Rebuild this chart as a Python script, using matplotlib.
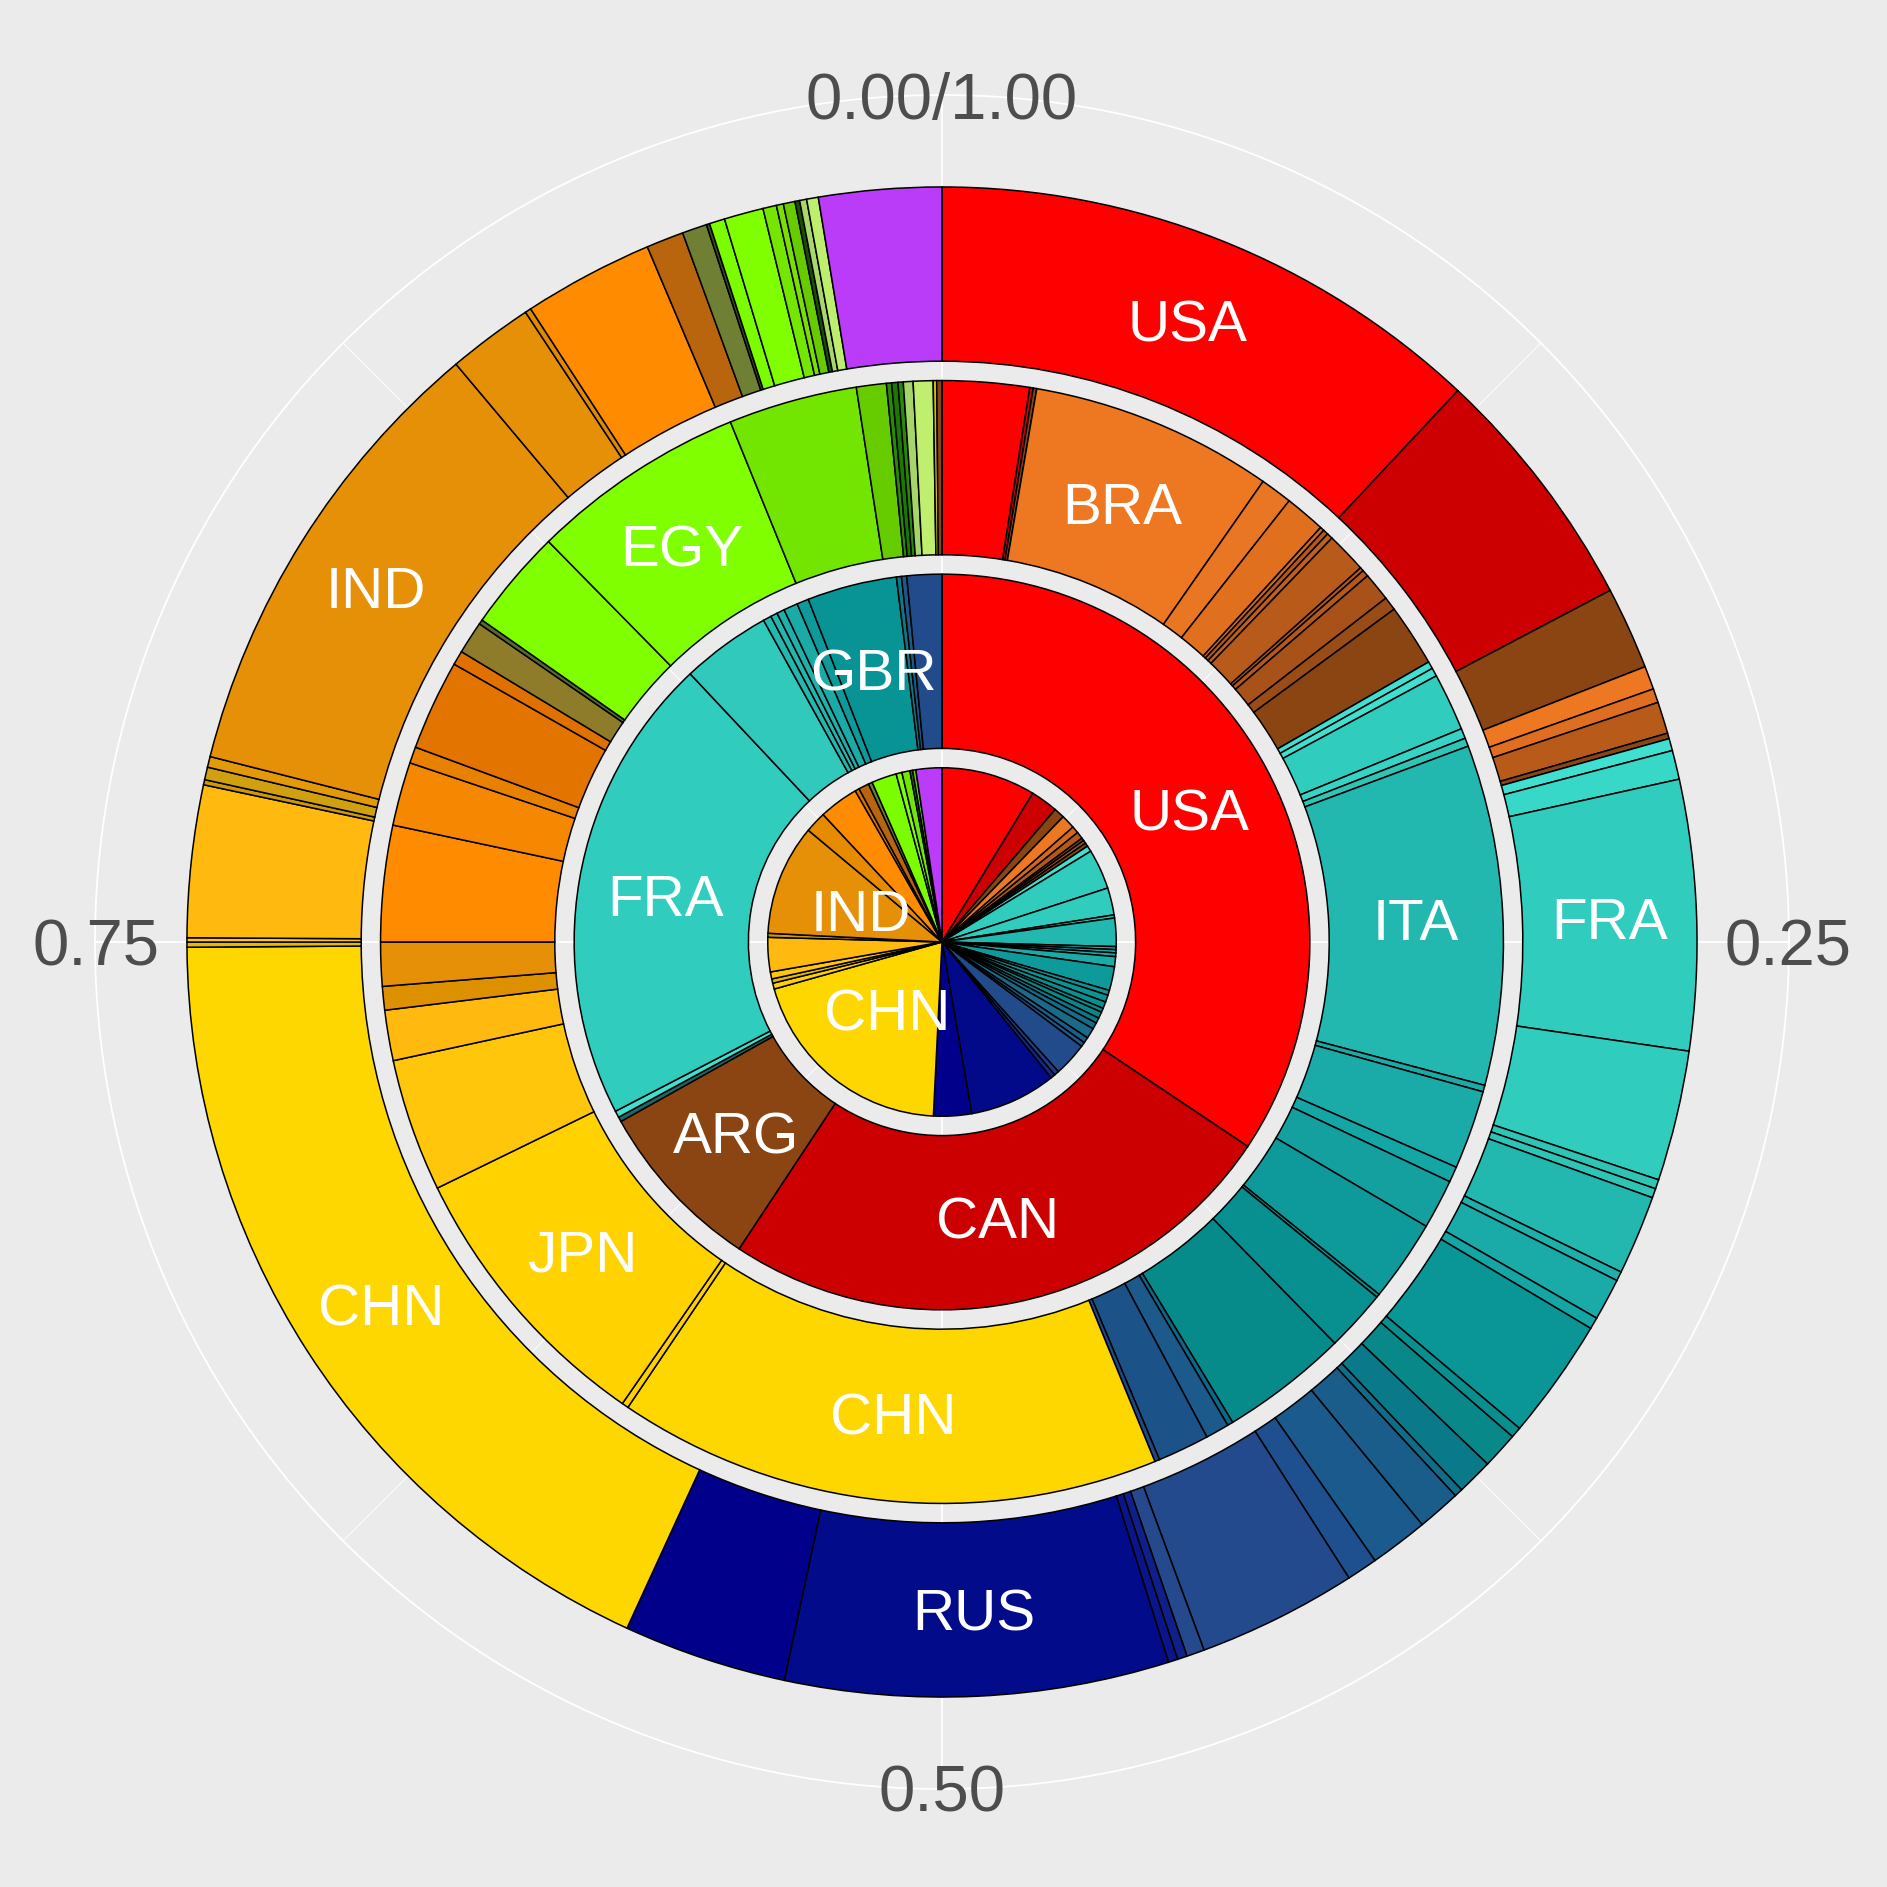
import numpy as np
import matplotlib
matplotlib.use("Agg")
import matplotlib.pyplot as plt
from matplotlib.transforms import offset_copy

plt.rcParams['font.family'] = ['Liberation Sans', 'DejaVu Sans']

# share of each slice (percent of the ring), clockwise from 12 o'clock
ring1_share = [8.72, 2.53, 0.99, 1.30, 0.65, 0.65, 0.26, 0.30, 0.33, 0.55,
               3.71, 2.52, 0.29, 2.62, 0.28, 0.30, 0.34, 0.93, 2.21, 0.46,
               0.66, 0.62, 0.38, 0.60, 0.50, 0.60, 0.97, 0.53, 0.42, 3.14,
               0.44, 0.43, 8.04, 3.52, 19.86, 0.55, 0.40, 0.65, 3.18, 0.37,
               10.28, 1.97, 3.66, 0.39, 0.97, 0.37, 2.32, 0.54, 0.75, 0.25,
               0.30, 2.40]
ring1_fill = ['#FF0000', '#CC0000', '#8B4513', '#EE7722', '#D2691E', '#B5581A', '#8B4513', '#A0522D', '#8B4513', '#40E0D0',
              '#30CCBE', '#30CCBE', '#2EC4B6', '#22B8B0', '#1EB0AA', '#1AABA8', '#1AABA8', '#1AABA8', '#0E9A9A', '#0C9696',
              '#0A9494', '#0A9090', '#098C8C', '#088888', '#0A7A8A', '#126E8A', '#1A6A8A', '#1B5E8A', '#1B5A8A', '#224B8C',
              '#1E3C8A', '#102A8A', '#030A8A', '#00008B', '#FFD700', '#FFD000', '#E6B800', '#FFC60B', '#FFB90F', '#CC9A06',
              '#E69008', '#E68A00', '#FF8C00', '#E07000', '#B8650E', '#6F8035', '#7CFC00', '#7FFF00', '#72E600', '#1A7A00',
              '#66CC00', '#BB3CF8']
ring1_label = [''] * 34 + ['CHN'] + [''] * 5 + ['IND'] + [''] * 11

ring2_share = [34.38, 24.92, 7.59, 0.21, 0.29, 20.61, 3.94, 0.36, 0.30, 0.34,
               0.62, 0.52, 3.94, 0.22, 0.23, 1.53]
ring2_fill = ['#FF0000', '#CC0000', '#8B4513', '#1A6A6A', '#40E0D0', '#30CCBE', '#30C9BC', '#22B8B0', '#22B8B0', '#1EB0AA',
              '#1AABA8', '#0E9A9A', '#089494', '#0A7A8A', '#1A5A8A', '#224B8C']
ring2_label = ['USA', 'CAN', 'ARG', '', '', 'FRA', '', '', '', '',
               '', '', 'GBR', '', '', '']

ring3_share = [2.50, 0.10, 0.10, 6.99, 0.92, 1.17, 0.12, 0.15, 0.17, 1.17,
               0.11, 0.19, 0.82, 0.39, 1.79, 0.21, 0.24, 1.66, 0.29, 0.24,
               9.78, 0.19, 2.27, 0.45, 1.43, 2.35, 0.10, 1.77, 3.67, 0.16,
               0.68, 1.49, 0.14, 15.64, 0.19, 8.14, 3.83, 1.45, 0.68, 1.26,
               3.34, 1.83, 0.47, 2.60, 0.41, 0.94, 0.13, 2.92, 6.21, 3.71,
               0.86, 0.15, 0.18, 0.15, 0.28, 0.57, 0.10, 0.15]
ring3_fill = ['#FF0000', '#CC0000', '#8B4513', '#EE7722', '#E87622', '#E0701E', '#D2691E', '#B5581A', '#C0601C', '#B85A1A',
              '#B5581A', '#B5581A', '#A8521A', '#9A4C16', '#8B4513', '#40E0D0', '#40E0D0', '#30CCBE', '#36D4C6', '#2EC4B6',
              '#22B8B0', '#1AABA8', '#1AABA8', '#14A5A5', '#13A09F', '#0E9A9A', '#0A9090', '#089090', '#078A8A', '#0A6A8A',
              '#1B5A8A', '#1B5288', '#1E4A8A', '#FFD700', '#FFD000', '#FFD200', '#FFC60B', '#FFB90F', '#DE9100', '#E69008',
              '#FF8C00', '#F58800', '#E88000', '#E37400', '#E07000', '#8E7C2B', '#556B2F', '#80FF00', '#80FF00', '#72E600',
              '#66CC00', '#2A8A00', '#1A7A00', '#2A8A00', '#A6D56A', '#C0EE6E', '#D4C000', '#8B4513']
ring3_label = ['', '', '', 'BRA'] + [''] * 16 + ['ITA'] + [''] * 12 + ['CHN', '', 'JPN'] + [''] * 12 + ['EGY'] + [''] * 9

ring4_share = [11.97, 5.32, 1.77, 0.50, 0.30, 0.68, 0.12, 0.26, 0.62, 5.77,
               2.79, 0.20, 0.20, 1.70, 0.20, 0.90, 0.25, 2.59, 0.23, 0.78,
               0.77, 0.18, 0.93, 1.25, 0.66, 3.42, 0.38, 0.21, 0.20, 8.20,
               3.50, 18.04, 0.11, 0.09, 3.25, 0.11, 0.27, 0.23, 9.92, 1.83,
               0.13, 2.79, 0.80, 0.53, 0.07, 0.33, 0.84, 0.29, 0.15, 0.25,
               0.10, 0.15, 0.25, 2.62]
ring4_fill = ['#FF0000', '#CC0000', '#8B4513', '#EE7722', '#E06E20', '#B85A1A', '#8B4513', '#40E0D0', '#38D8C8', '#30CCBE',
              '#30CCBE', '#2EC4B6', '#2EC4B6', '#22B8B0', '#1EB0AA', '#1AABA8', '#14A5A5', '#0A9696', '#098F8F', '#088888',
              '#0A7A8A', '#0E6E8A', '#1A5C8A', '#1A5A8C', '#1E5090', '#224A8C', '#24498C', '#10208A', '#0A158A', '#020B8A',
              '#00008B', '#FFD700', '#E6B800', '#FFC60B', '#FFB90F', '#CC9A06', '#D0A010', '#E29A08', '#E69008', '#E69008',
              '#E08A00', '#FF8C00', '#B8650E', '#6F8035', '#3A5020', '#7CFC00', '#7FFF00', '#74E600', '#7BE000', '#66CC00',
              '#1A5000', '#A8D86A', '#BEEE6E', '#BB3CF8']
ring4_label = ['USA'] + [''] * 8 + ['FRA'] + [''] * 19 + ['RUS', '', 'CHN'] + [''] * 6 + ['IND'] + [''] * 15

theta_breaks = [0.0, 0.25, 0.5, 0.75]
theta_labels = ['0.00/1.00', '0.25', '0.50', '0.75']

fig = plt.figure(figsize=(18.87, 18.87), dpi=100, facecolor='#EBEBEB')
ax = fig.add_axes([0.050345, 0.051934, 0.89772, 0.89772], projection='polar')
ax.set_facecolor('#EBEBEB')
ax.set_theta_zero_location('N')
ax.set_theta_direction(-1)
ax.set_ylim(0.55, 4.925)
ax.set_xticks([])
ax.set_yticks([])
ax.grid(False)
ax.spines['polar'].set_visible(False)

# white grid: spokes every 1/8 turn and the outer circle
for k in range(8):
    t = k * np.pi / 4
    ax.plot([t, t], [0.55, 4.925], color='white', lw=1.3 if k % 2 == 0 else 0.65,
            zorder=1, solid_capstyle='butt')
tt = np.linspace(0, 2 * np.pi, 721)
ax.plot(tt, np.full_like(tt, 4.925), color='white', lw=1.3, zorder=1, clip_on=False)

# text is anchored on its baseline and moved down by half the cap height
lab_size = 42
tick_size = 47
lab_trans = offset_copy(ax.transData, fig=fig, y=-0.358 * lab_size, units='points')
tick_trans = offset_copy(ax.transData, fig=fig, y=-0.358 * tick_size, units='points')


def draw_ring(x, share, fill, label):
    share = np.asarray(share, dtype=float)
    frac = share / share.sum()
    start = np.concatenate([[0.0], np.cumsum(frac)[:-1]])
    ax.bar(start * 2 * np.pi, 0.9, width=frac * 2 * np.pi, bottom=x - 0.45, align='edge',
           color=fill, edgecolor='black', linewidth=1.1, zorder=2)
    for s, f, lab in zip(start, frac, label):
        if lab:
            ax.text((s + f / 2) * 2 * np.pi, x, lab, ha='center', va='baseline',
                    color='white', fontsize=lab_size, zorder=3, transform=lab_trans)


draw_ring(1, ring1_share, ring1_fill, ring1_label)
draw_ring(2, ring2_share, ring2_fill, ring2_label)
draw_ring(3, ring3_share, ring3_fill, ring3_label)
draw_ring(4, ring4_share, ring4_fill, ring4_label)

for b, lab in zip(theta_breaks, theta_labels):
    ax.text(b * 2 * np.pi, 4.92, lab, ha='center', va='baseline', color='#4D4D4D',
            fontsize=tick_size, zorder=3, clip_on=False, transform=tick_trans)

fig.savefig('out.png', dpi=100, facecolor='#EBEBEB')
